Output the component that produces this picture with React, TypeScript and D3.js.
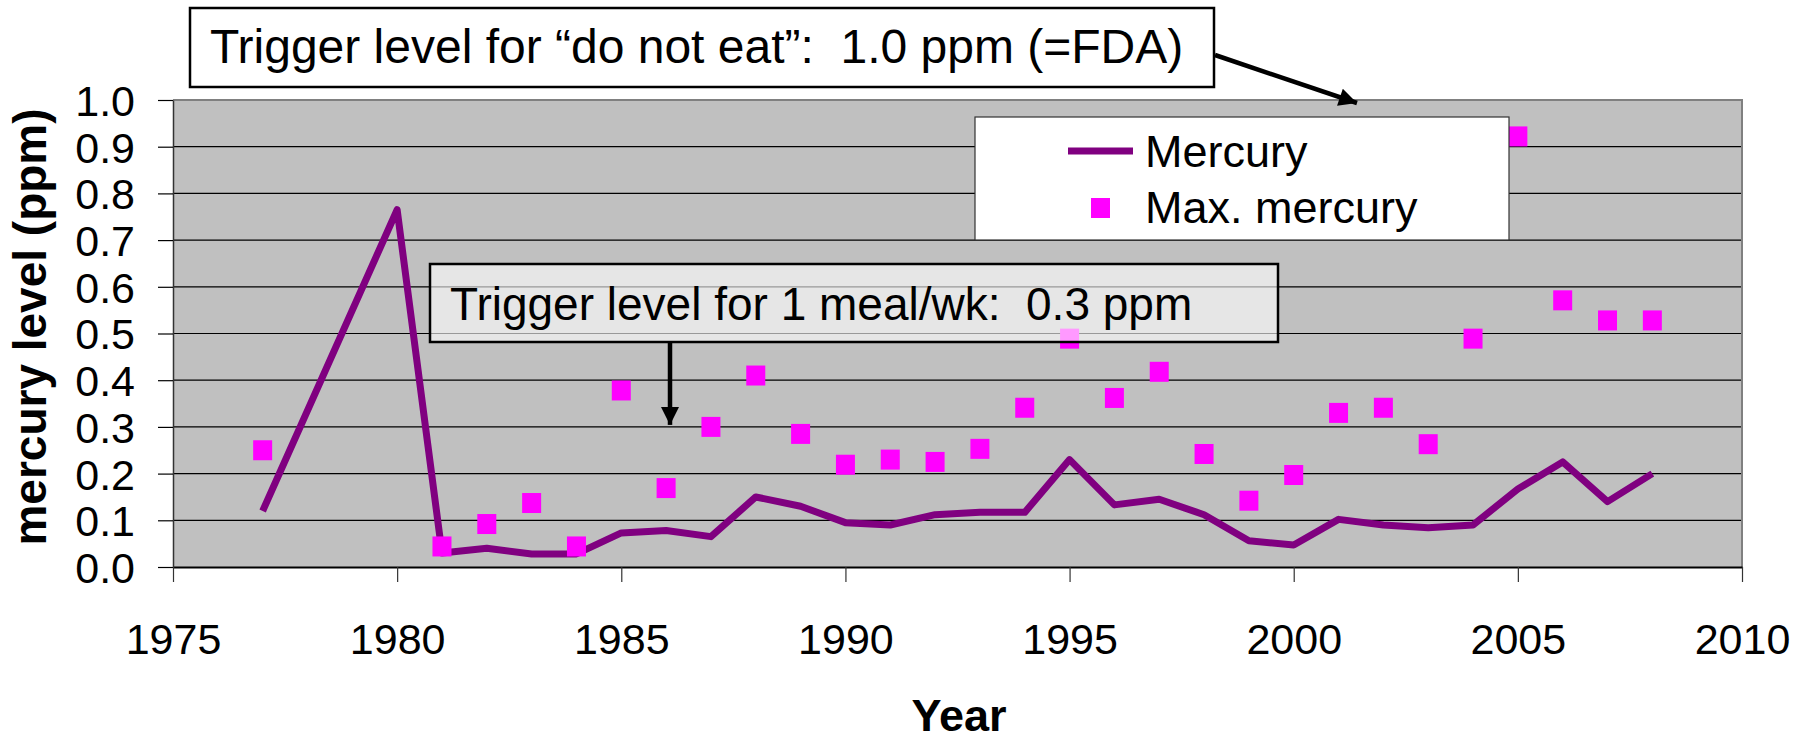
import React, { useEffect, useRef } from 'react';
import * as d3 from 'd3';

// Mean mercury per year (line) and max mercury per year (squares)
const lineYears = [1977, 1980, 1981, 1982, 1983, 1984, 1985, 1986, 1987, 1988, 1989, 1990, 1991, 1992, 1993, 1994, 1995, 1996, 1997, 1998, 1999, 2000, 2001, 2002, 2003, 2004, 2005, 2006, 2007, 2008];
const mercury = [0.12, 0.765, 0.03, 0.04, 0.028, 0.028, 0.073, 0.078, 0.065, 0.15, 0.13, 0.095, 0.09, 0.112, 0.117, 0.117, 0.23, 0.133, 0.145, 0.112, 0.056, 0.047, 0.102, 0.09, 0.084, 0.09, 0.167, 0.225, 0.14, 0.2];

const maxYears = [1977, 1981, 1982, 1983, 1984, 1985, 1986, 1987, 1988, 1989, 1990, 1991, 1992, 1993, 1994, 1995, 1996, 1997, 1998, 1999, 2000, 2001, 2002, 2003, 2004, 2005, 2006, 2007, 2008];
const maxMercury = [0.25, 0.044, 0.092, 0.137, 0.044, 0.378, 0.169, 0.3, 0.41, 0.285, 0.219, 0.23, 0.225, 0.253, 0.341, 0.489, 0.362, 0.418, 0.242, 0.142, 0.197, 0.33, 0.341, 0.263, 0.489, 0.922, 0.571, 0.528, 0.528];

const xTicks = [1975, 1980, 1985, 1990, 1995, 2000, 2005, 2010];
const yTicks = [0, 0.1, 0.2, 0.3, 0.4, 0.5, 0.6, 0.7, 0.8, 0.9, 1.0];

const FONT = '"Liberation Sans", Arial, sans-serif';

const App: React.FC = () => {
  const svgRef = useRef<SVGSVGElement>(null);

  useEffect(() => {
    const svg = d3.select(svgRef.current);
    svg.selectAll('*').remove();

    const width = 1810;
    const height = 738;
    const margin = { top: 100, right: 68, bottom: 171, left: 173 };
    const x0 = margin.left;
    const x1 = width - margin.right;
    const y0 = height - margin.bottom;
    const y1 = margin.top;

    const x = d3.scaleLinear().domain([1975, 2010]).range([x0, x1]);
    const y = d3.scaleLinear().domain([0, 1]).range([y0, y1]);

    const defs = svg.append('defs');
    defs.append('marker')
      .attr('id', 'arrowhead')
      .attr('viewBox', '0 0 10 10')
      .attr('refX', 10)
      .attr('refY', 5)
      .attr('markerWidth', 5)
      .attr('markerHeight', 4)
      .attr('markerUnits', 'strokeWidth')
      .attr('orient', 'auto')
      .append('path')
      .attr('d', 'M0,0L10,5L0,10Z')
      .attr('fill', '#000');

    // Plot area
    svg.append('rect')
      .attr('x', x0).attr('y', y1)
      .attr('width', x1 - x0).attr('height', y0 - y1)
      .attr('fill', '#c0c0c0');

    // Gridlines
    svg.append('g')
      .selectAll('line')
      .data(yTicks.slice(1))
      .join('line')
      .attr('x1', x0).attr('x2', x1)
      .attr('y1', d => y(d)).attr('y2', d => y(d))
      .attr('stroke', '#000')
      .attr('stroke-width', 1.2);

    // Top/right border
    svg.append('path')
      .attr('d', `M${x0},${y1}H${x1}V${y0}`)
      .attr('fill', 'none')
      .attr('stroke', '#808080')
      .attr('stroke-width', 2);

    // Axes
    const gx = svg.append('g')
      .attr('transform', `translate(0,${y0})`)
      .call(d3.axisBottom(x).tickValues(xTicks).tickFormat(d3.format('d')).tickSize(15).tickSizeOuter(0).tickPadding(41));
    gx.select('.domain').attr('stroke', '#000').attr('stroke-width', 2);
    gx.selectAll('.tick line').attr('stroke', '#333').attr('stroke-width', 1.2);
    gx.selectAll('.tick text')
      .attr('fill', '#000')
      .style('font-family', FONT)
      .style('font-size', '43px');

    const gy = svg.append('g')
      .attr('transform', `translate(${x0},0)`)
      .call(d3.axisLeft(y).tickValues(yTicks).tickFormat(d3.format('.1f')).tickSize(15).tickSizeOuter(0).tickPadding(23));
    gy.select('.domain').attr('stroke', '#333').attr('stroke-width', 1.5);
    gy.selectAll('.tick line').attr('stroke', '#000').attr('stroke-width', 1.2);
    gy.selectAll('.tick text')
      .attr('fill', '#000')
      .attr('dy', '0.36em')
      .style('font-family', FONT)
      .style('font-size', '43px');

    // Axis titles
    svg.append('text')
      .attr('x', 959)
      .attr('y', 731)
      .attr('text-anchor', 'middle')
      .attr('font-family', FONT)
      .attr('font-weight', 'bold')
      .attr('font-size', 45)
      .text('Year');

    svg.append('text')
      .attr('transform', 'translate(46,327) rotate(-90)')
      .attr('text-anchor', 'middle')
      .attr('font-family', FONT)
      .attr('font-weight', 'bold')
      .attr('font-size', 46)
      .text('mercury level (ppm)');

    // Mercury line
    const line = d3.line<number>()
      .x((_, i) => x(lineYears[i]))
      .y(d => y(d));
    svg.append('path')
      .datum(mercury)
      .attr('d', line)
      .attr('fill', 'none')
      .attr('stroke', '#800080')
      .attr('stroke-width', 7)
      .attr('stroke-linejoin', 'round');

    // Max mercury squares
    svg.append('g')
      .selectAll('rect')
      .data(maxMercury)
      .join('rect')
      .attr('x', (_, i) => x(maxYears[i]) - 9.5)
      .attr('y', d => y(d) - 10)
      .attr('width', 19)
      .attr('height', 20)
      .attr('fill', '#ff00ff');

    // Legend
    svg.append('rect')
      .attr('x', 975).attr('y', 117)
      .attr('width', 534).attr('height', 123)
      .attr('fill', '#fff')
      .attr('stroke', '#333')
      .attr('stroke-width', 1.2);
    svg.append('line')
      .attr('x1', 1068).attr('x2', 1133)
      .attr('y1', 151).attr('y2', 151)
      .attr('stroke', '#800080')
      .attr('stroke-width', 7);
    svg.append('rect')
      .attr('x', 1091).attr('y', 198)
      .attr('width', 19).attr('height', 20)
      .attr('fill', '#ff00ff');
    svg.append('text')
      .attr('x', 1145).attr('y', 167)
      .attr('font-family', FONT).attr('font-size', 45)
      .text('Mercury');
    svg.append('text')
      .attr('x', 1145).attr('y', 223)
      .attr('font-family', FONT).attr('font-size', 45)
      .text('Max. mercury');

    // Annotation: do not eat
    svg.append('rect')
      .attr('x', 190).attr('y', 8)
      .attr('width', 1024).attr('height', 79)
      .attr('fill', '#fff')
      .attr('stroke', '#000')
      .attr('stroke-width', 2.5);
    svg.append('text')
      .attr('x', 210).attr('y', 63)
      .attr('font-family', FONT).attr('font-size', 48)
      .style('white-space', 'pre')
      .text('Trigger level for \u201cdo not eat\u201d:  1.0 ppm (=FDA)');
    svg.append('line')
      .attr('x1', 1215).attr('y1', 55)
      .attr('x2', 1357).attr('y2', 103)
      .attr('stroke', '#000')
      .attr('stroke-width', 4.5)
      .attr('marker-end', 'url(#arrowhead)');

    // Annotation: 1 meal/wk
    svg.append('rect')
      .attr('x', 430).attr('y', 264)
      .attr('width', 848).attr('height', 78)
      .attr('fill', '#fff')
      .attr('fill-opacity', 0.6)
      .attr('stroke', '#000')
      .attr('stroke-width', 2.5);
    svg.append('text')
      .attr('x', 450).attr('y', 320)
      .attr('font-family', FONT).attr('font-size', 46)
      .style('white-space', 'pre')
      .text('Trigger level for 1 meal/wk:  0.3 ppm');
    svg.append('line')
      .attr('x1', 670).attr('y1', 343)
      .attr('x2', 670).attr('y2', y(0.3) - 2)
      .attr('stroke', '#000')
      .attr('stroke-width', 4.5)
      .attr('marker-end', 'url(#arrowhead)');
  }, []);

  return (
    <svg
      ref={svgRef}
      width={1810}
      height={738}
      style={{ position: 'absolute', left: 0, top: 0, background: '#fff' }}
    />
  );
};

export default App;
